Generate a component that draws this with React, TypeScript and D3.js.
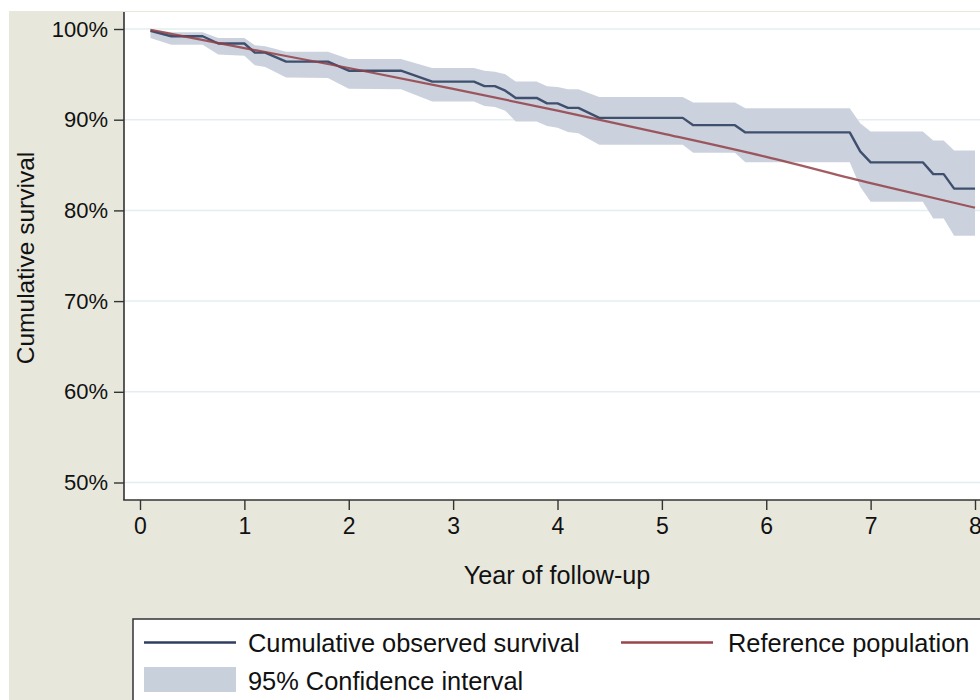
import { useEffect, useRef } from "react";
import * as d3 from "d3";

// follow-up times (years) where the observed curve / CI change slope
const years = [0.1, 0.3, 0.6, 0.75, 1.0, 1.1, 1.2, 1.4, 1.8, 2.0, 2.5, 2.8, 3.2, 3.3, 3.4, 3.5, 3.6, 3.8, 3.9, 4.0, 4.1, 4.2, 4.4, 5.2, 5.3, 5.7, 5.8, 6.8, 6.9, 7.0, 7.5, 7.6, 7.7, 7.8, 8.0];
const observed = [99.8, 99.2, 99.2, 98.4, 98.4, 97.4, 97.4, 96.4, 96.4, 95.4, 95.4, 94.2, 94.2, 93.7, 93.7, 93.2, 92.4, 92.4, 91.8, 91.8, 91.3, 91.3, 90.2, 90.2, 89.4, 89.4, 88.6, 88.6, 86.5, 85.3, 85.3, 84.0, 84.0, 82.4, 82.4];
const ciUpper = [100.0, 99.65, 99.65, 99.0, 99.0, 98.2, 98.1, 97.5, 97.5, 96.7, 96.7, 95.7, 95.7, 95.4, 95.3, 95.0, 94.2, 94.2, 93.7, 93.6, 93.35, 93.35, 92.5, 92.5, 91.9, 91.9, 91.25, 91.25, 89.6, 88.7, 88.7, 87.7, 87.7, 86.6, 86.6];
const ciLower = [99.0, 98.25, 98.25, 97.2, 97.05, 96.0, 95.8, 94.65, 94.6, 93.4, 93.35, 92.0, 92.0, 91.5, 91.4, 91.0, 89.8, 89.8, 89.3, 89.1, 88.65, 88.5, 87.25, 87.25, 86.35, 86.35, 85.3, 85.3, 82.6, 80.96, 80.96, 79.1, 79.1, 77.2, 77.2];

// expected survival of the reference population
const refYears = [0.1, 1, 2, 3, 4, 5, 6, 7, 8];
const refSurvival = [99.9, 97.9, 95.7, 93.4, 91.0, 88.5, 85.9, 83.0, 80.3];

const xTicks = [0, 1, 2, 3, 4, 5, 6, 7, 8];
const yTicks = [50, 60, 70, 80, 90, 100];

const FONT = "'Liberation Sans', Arial, Helvetica, sans-serif";

export default function App() {
  const svgRef = useRef<SVGSVGElement>(null);
  const W = 980;
  const H = 700;

  useEffect(() => {
    if (!svgRef.current) return;
    const svg = d3.select(svgRef.current);
    svg.selectAll("*").remove();

    const plot = { left: 124, top: 12, right: 1000, bottom: 500 };

    // fondo
    svg.append("rect").attr("width", W).attr("height", H).attr("fill", "#ffffff");
    svg.append("rect").attr("x", 9).attr("y", 11).attr("width", W).attr("height", H).attr("fill", "#e7e7dc");
    svg
      .append("rect")
      .attr("x", plot.left)
      .attr("y", plot.top)
      .attr("width", plot.right - plot.left)
      .attr("height", plot.bottom - plot.top)
      .attr("fill", "#ffffff");

    const x = d3.scaleLinear().domain([0, 8]).range([140, 975]);
    const y = d3.scaleLinear().domain([50, 100]).range([482.5, 29]);

    // grid
    svg
      .append("g")
      .selectAll("line")
      .data(yTicks)
      .enter()
      .append("line")
      .attr("x1", plot.left)
      .attr("x2", plot.right)
      .attr("y1", (d) => y(d))
      .attr("y2", (d) => y(d))
      .attr("stroke", "#e4eef1")
      .attr("stroke-width", 1.5);

    const pts = years.map((t, i) => ({ t, s: observed[i], lo: ciLower[i], hi: ciUpper[i] }));

    const area = d3
      .area<{ t: number; lo: number; hi: number }>()
      .x((d) => x(d.t))
      .y0((d) => y(d.lo))
      .y1((d) => y(d.hi));

    svg.append("path").datum(pts).attr("d", area).attr("fill", "#c8d0dc").attr("opacity", 0.95);

    const line = d3
      .line<{ t: number; s: number }>()
      .x((d) => x(d.t))
      .y((d) => y(d.s));

    svg
      .append("path")
      .datum(pts)
      .attr("d", line)
      .attr("fill", "none")
      .attr("stroke", "#3f4f6e")
      .attr("stroke-width", 2.4)
      .attr("stroke-linejoin", "round");

    const refPts = refYears.map((t, i) => ({ t, s: refSurvival[i] }));
    svg
      .append("path")
      .datum(refPts)
      .attr("d", line.curve(d3.curveMonotoneX))
      .attr("fill", "none")
      .attr("stroke", "#923f46")
      .attr("stroke-opacity", 0.85)
      .attr("stroke-width", 2.2);

    // ejes
    const yAxis = svg
      .append("g")
      .attr("transform", `translate(${plot.left},0)`)
      .call(d3.axisLeft(y).tickValues(yTicks).tickSize(10).tickPadding(6).tickFormat((d) => `${d}%`));
    yAxis.select(".domain").remove();
    yAxis.selectAll(".tick line").attr("stroke", "#333").attr("stroke-width", 1.4);
    yAxis.selectAll(".tick text").attr("font-family", FONT).attr("font-size", 22).attr("fill", "#111");

    const xAxis = svg
      .append("g")
      .attr("transform", `translate(0,${plot.bottom})`)
      .call(d3.axisBottom(x).tickValues(xTicks).tickSize(10).tickPadding(8).tickFormat((d) => `${d}`));
    xAxis.select(".domain").remove();
    xAxis.selectAll(".tick line").attr("stroke", "#333").attr("stroke-width", 1.4);
    xAxis.selectAll(".tick text").attr("font-family", FONT).attr("font-size", 23).attr("fill", "#111");

    svg
      .append("line")
      .attr("x1", plot.left)
      .attr("x2", plot.left)
      .attr("y1", plot.top)
      .attr("y2", plot.bottom)
      .attr("stroke", "#333")
      .attr("stroke-width", 1.6);
    svg
      .append("line")
      .attr("x1", plot.left - 0.8)
      .attr("x2", plot.right)
      .attr("y1", plot.bottom)
      .attr("y2", plot.bottom)
      .attr("stroke", "#333")
      .attr("stroke-width", 1.6);

    // titulos
    svg
      .append("text")
      .attr("x", 557)
      .attr("y", 584)
      .attr("text-anchor", "middle")
      .attr("font-family", FONT)
      .attr("font-size", 25.2)
      .attr("fill", "#111")
      .text("Year of follow-up");
    svg
      .append("text")
      .attr("transform", "translate(34,258) rotate(-90)")
      .attr("text-anchor", "middle")
      .attr("font-family", FONT)
      .attr("font-size", 24.5)
      .attr("fill", "#111")
      .text("Cumulative survival");

    // leyenda
    svg
      .append("rect")
      .attr("x", 133)
      .attr("y", 619)
      .attr("width", 900)
      .attr("height", 120)
      .attr("fill", "#ffffff")
      .attr("stroke", "#333")
      .attr("stroke-width", 1.5);

    const leyenda = svg.append("g").attr("font-family", FONT).attr("font-size", 25.4).attr("fill", "#111");
    leyenda.append("line").attr("x1", 144).attr("x2", 236).attr("y1", 642.5).attr("y2", 642.5).attr("stroke", "#2f3d5f").attr("stroke-width", 2.4);
    leyenda.append("text").attr("x", 248).attr("y", 651.5).text("Cumulative observed survival");
    leyenda.append("line").attr("x1", 621).attr("x2", 713).attr("y1", 642.5).attr("y2", 642.5).attr("stroke", "#9a454b").attr("stroke-width", 2.4);
    leyenda.append("text").attr("x", 728).attr("y", 651.5).text("Reference population");
    leyenda.append("rect").attr("x", 144).attr("y", 667).attr("width", 92).attr("height", 25).attr("fill", "#c8d0dc");
    leyenda.append("text").attr("x", 248).attr("y", 690).text("95% Confidence interval");
  }, []);

  return (
    <svg
      ref={svgRef}
      width={W}
      height={H}
      viewBox={`0 0 ${W} ${H}`}
      style={{ position: "absolute", left: 0, top: 0, display: "block" }}
    />
  );
}
